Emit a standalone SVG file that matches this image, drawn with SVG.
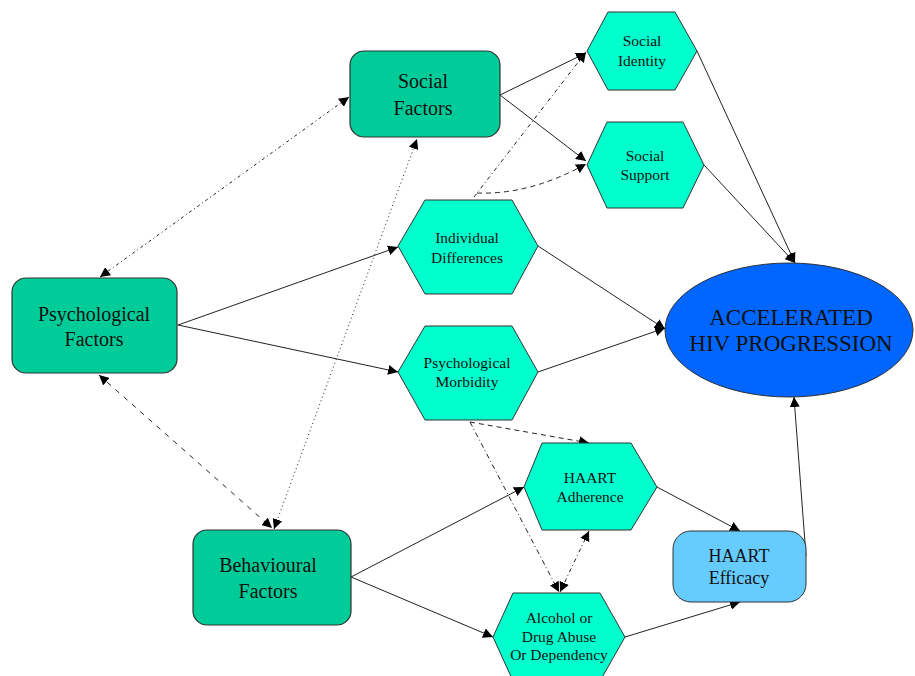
<svg xmlns="http://www.w3.org/2000/svg" width="915" height="676" viewBox="0 0 915 676">
<defs>
<marker id="ah" viewBox="0 0 10 10" refX="10" refY="5" markerWidth="10" markerHeight="10" markerUnits="userSpaceOnUse" orient="auto-start-reverse">
<path d="M0,0 L10,5 L0,10 z" fill="#000"/>
</marker>
<style>
.fac{fill:#00cc99;stroke:#333;stroke-width:1.2}
.hex{fill:#00ffcc;stroke:#333;stroke-width:1}
.t{font-family:"Liberation Serif","Times New Roman",serif;fill:#111;text-anchor:middle}
.tl{font-size:20px}
.ts{font-size:15.5px}
.c{fill:none;stroke:#222;stroke-width:1}
.ar{marker-end:url(#ah)}
.ab{marker-start:url(#ah);marker-end:url(#ah)}
</style>
</defs>
<rect width="915" height="676" fill="#fff"/>
<g id="connectors">
<line class="c ab" x1="100" y1="277" x2="349" y2="97" stroke-dasharray="3,3,1,3"/>
<line class="c ar" x1="178" y1="325" x2="398" y2="247"/>
<line class="c ar" x1="178" y1="325" x2="398" y2="372"/>
<line class="c ab" x1="99" y1="375" x2="272" y2="528" stroke-dasharray="5,6"/>
<line class="c ab" x1="274" y1="529" x2="417" y2="139" stroke-dasharray="1,3"/>
<line class="c ar" x1="474" y1="197" x2="586" y2="52" stroke-dasharray="4,3,1,3"/>
<path class="c ar" d="M477,193 Q530,195 586,164" stroke-dasharray="5,4"/>
<line class="c ar" x1="500" y1="95" x2="586" y2="53"/>
<line class="c ar" x1="500" y1="95" x2="586" y2="161"/>
<line class="c ar" x1="697" y1="51" x2="795" y2="263"/>
<line class="c ar" x1="704" y1="165" x2="795" y2="263"/>
<line class="c ar" x1="538" y1="246" x2="665" y2="329"/>
<line class="c ar" x1="538" y1="372" x2="665" y2="328"/>
<line class="c ar" x1="806" y1="556" x2="794" y2="397"/>
<line class="c ar" x1="470" y1="422" x2="589" y2="443" stroke-dasharray="5,4"/>
<line class="c ar" x1="470" y1="422" x2="559" y2="592" stroke-dasharray="5,3,1,3"/>
<line class="c ab" x1="560" y1="592" x2="589" y2="531" stroke-dasharray="4,3,1,3"/>
<line class="c ar" x1="351" y1="577" x2="524" y2="487"/>
<line class="c ar" x1="351" y1="577" x2="493" y2="637"/>
<line class="c ar" x1="657" y1="487" x2="740" y2="531"/>
<line class="c ar" x1="625" y1="637" x2="740" y2="602"/>
</g>
<g id="social-factors">
<rect class="fac" x="350" y="51" width="150" height="86" rx="14"/>
<text class="t tl" x="423" y="88">Social</text>
<text class="t tl" x="423" y="115">Factors</text>
</g>
<g id="psychological-factors">
<rect class="fac" x="12" y="278" width="165" height="95" rx="14"/>
<text class="t tl" x="94" y="321">Psychological</text>
<text class="t tl" x="94" y="346">Factors</text>
</g>
<g id="behavioural-factors">
<rect class="fac" x="193" y="530" width="158" height="95" rx="14"/>
<text class="t tl" x="268" y="572">Behavioural</text>
<text class="t tl" x="268" y="598">Factors</text>
</g>
<g id="social-identity">
<polygon class="hex" points="587,51 608,12 675,12 697,51 675,90 608,90"/>
<text class="t ts" x="642" y="46">Social</text>
<text class="t ts" x="642" y="66">Identity</text>
</g>
<g id="social-support">
<polygon class="hex" points="587,165 607,122 683,122 704,165 683,208 607,208"/>
<text class="t ts" x="645" y="161">Social</text>
<text class="t ts" x="645" y="180">Support</text>
</g>
<g id="individual-differences">
<polygon class="hex" points="398,246 425,200 512,200 538,246 512,294 425,294"/>
<text class="t ts" x="467" y="243">Individual</text>
<text class="t ts" x="467" y="263">Differences</text>
</g>
<g id="psychological-morbidity">
<polygon class="hex" points="398,372 425,326 512,326 538,372 512,420 425,420"/>
<text class="t ts" x="467" y="368">Psychological</text>
<text class="t ts" x="467" y="387">Morbidity</text>
</g>
<g id="haart-adherence">
<polygon class="hex" points="524,487 542,443 631,443 657,487 631,530 542,530"/>
<text class="t ts" x="590" y="483">HAART</text>
<text class="t ts" x="590" y="502">Adherence</text>
</g>
<g id="alcohol-drug-abuse">
<polygon class="hex" points="493,637 513,593 600,593 625,637 600,681 513,681"/>
<text class="t ts" x="559" y="623">Alcohol or</text>
<text class="t ts" x="559" y="642">Drug Abuse</text>
<text class="t ts" x="559" y="660">Or Dependency</text>
</g>
<g id="haart-efficacy">
<rect x="673" y="531" width="133" height="71" rx="18" fill="#66ccff" stroke="#333" stroke-width="1"/>
<text class="t" x="739" y="562" font-size="18">HAART</text>
<text class="t" x="739" y="584" font-size="18">Efficacy</text>
</g>
<g id="accelerated-hiv-progression">
<ellipse cx="789" cy="330" rx="124" ry="67" fill="#0066ff" stroke="#333" stroke-width="1"/>
<text class="t" x="791" y="325" font-size="23">ACCELERATED</text>
<text class="t" x="791" y="351" font-size="23">HIV PROGRESSION</text>
</g>
</svg>
